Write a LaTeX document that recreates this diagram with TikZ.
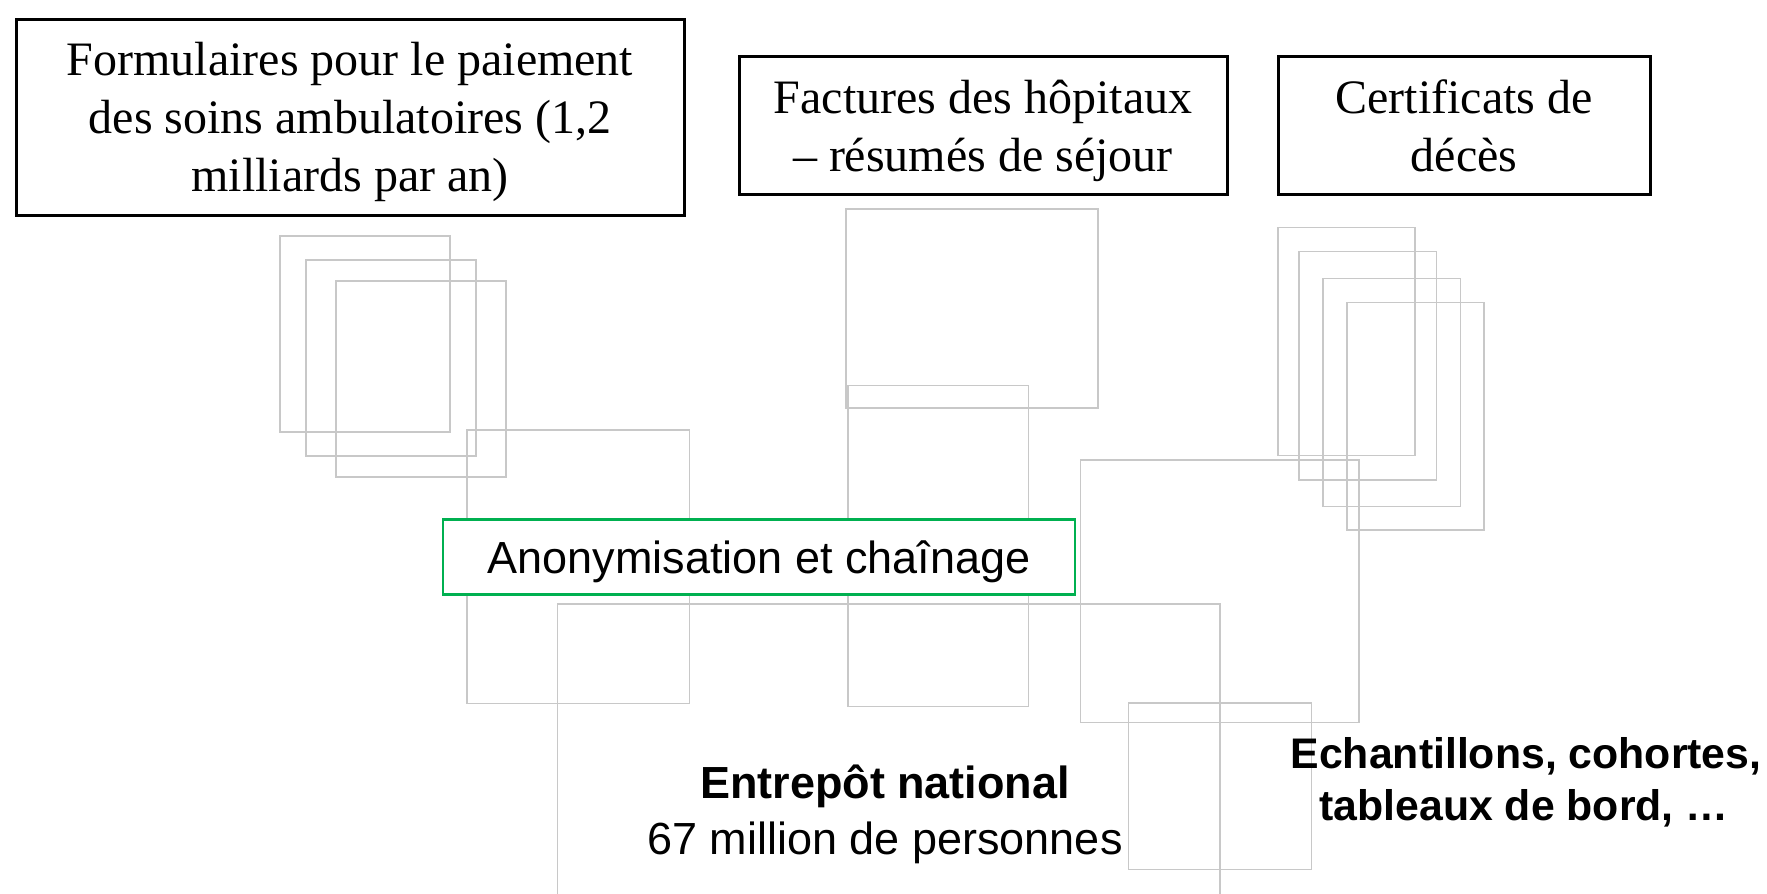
\documentclass[tikz,border=0pt]{standalone}
\usepackage{fontspec}
\setmainfont{Liberation Serif}
\setsansfont{Liberation Sans}
\definecolor{boxgreen}{RGB}{0,176,80}
\definecolor{ghost}{RGB}{200,200,200}
\begin{document}
\begin{tikzpicture}[x=0.5pt,y=-0.5pt,
  srcbox/.style={draw=black, line width=1.5pt, inner sep=0pt},
  srctext/.style={font=\fontsize{24}{29}\selectfont, align=center, inner sep=0pt},
  ghostbox/.style={draw=ghost, line width=0.75pt},
  anonbox/.style={draw=boxgreen, fill=white, line width=1.35pt, inner sep=0pt},
  lbl/.style={font=\sffamily\fontsize{22.5}{27}\selectfont, anchor=base, inner sep=0pt},
  lblb/.style={font=\sffamily\bfseries\fontsize{22.5}{27}\selectfont, anchor=base, inner sep=0pt},
  lblc/.style={font=\sffamily\bfseries\fontsize{21.4}{26}\selectfont, anchor=base, inner sep=0pt}]
\useasboundingbox (0,0) rectangle (1767,894);
\fill[white] (0,0) rectangle (1767,894);
% ghost rectangles, left stack
\draw[ghostbox] (280,236) rectangle (450,432);
\draw[ghostbox] (306,260) rectangle (476,456);
\draw[ghostbox] (336,281) rectangle (506,477);
% middle
\draw[ghostbox] (846,209) rectangle (1098,408);
\draw[ghostbox] (467,430) rectangle (689.5,703.5);
\draw[ghostbox] (848,385.5) rectangle (1028.5,706.5);
\draw[ghostbox] (557.5,894) -- (557.5,604) -- (1220,604) -- (1220,894);
\draw[ghostbox] (1080.5,460) rectangle (1359,722.5);
\draw[ghostbox] (1128.5,703) rectangle (1311.5,869.5);
% right stack
\draw[ghostbox] (1278,227.5) rectangle (1415,455.5);
\draw[ghostbox] (1299,251.5) rectangle (1436.5,480);
\draw[ghostbox] (1323,278.5) rectangle (1460.5,506.5);
\draw[ghostbox] (1347,302.5) rectangle (1484,530);
% source boxes
\node[srcbox, minimum width=334pt, minimum height=98pt] (formulaires) at (350,117) {};
\node[srctext] (formulairestext) at (350,121.5)
  {Formulaires pour le paiement\\des soins ambulatoires (1,2\\milliards par an)};
\node[srcbox, minimum width=244pt, minimum height=69pt] (factures) at (983,125) {};
\node[srctext] (facturestext) at (983,131)
  {Factures des hôpitaux\\– résumés de séjour};
\node[srcbox, minimum width=186pt, minimum height=69pt] (certificats) at (1464,125) {};
\node[srctext] (certificatstext) at (1464,125.5)
  {Certificats de\\décès};
% anonymisation
\node[anonbox, minimum width=316pt, minimum height=37.25pt] (anon) at (759,557) {};
\node[font=\sffamily\fontsize{22.5}{27}\selectfont, inner sep=0pt] (anontext) at (759,562) {Anonymisation et chaînage};
% labels
\node[lblb] (entrepot) at (885,798) {Entrepôt national};
\node[lbl] (personnes) at (885,854) {67 million de personnes};
\node[lblc] (echant) at (1526,768) {Echantillons, cohortes,};
\node[lblc] (tableaux) at (1524,820) {tableaux de bord, …};
\end{tikzpicture}
\end{document}
